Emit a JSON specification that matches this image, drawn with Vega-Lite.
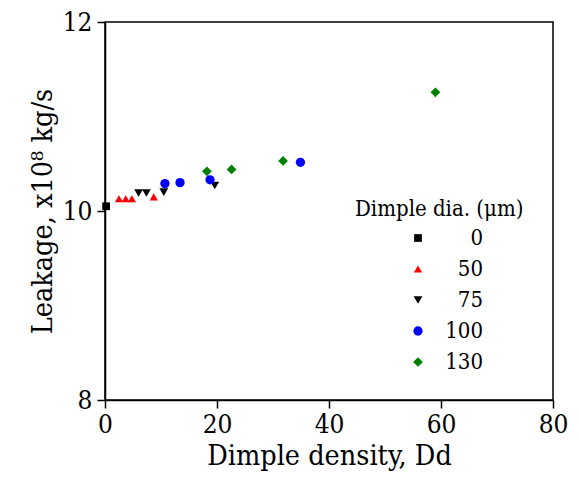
{
  "$schema": "https://vega.github.io/schema/vega-lite/v6.json",
  "autosize": "none",
  "padding": {"left": 105, "top": 22, "right": 25, "bottom": 79},
  "width": 448,
  "height": 378,
  "background": "white",
  "config": {
    "font": "DejaVu Serif Condensed",
    "view": {"stroke": "black", "strokeWidth": 1.5},
    "axis": {
      "domainColor": "black", "domainWidth": 1.5,
      "tickColor": "black", "tickWidth": 1.5, "tickSize": 8,
      "labelFont": "DejaVu Serif Condensed", "labelFontSize": 26, "labelColor": "black", "labelFlush": false,
      "titleFont": "DejaVu Serif Condensed", "titleFontSize": 28.5, "titleFontWeight": "normal", "titleColor": "black",
      "grid": false
    },
    "legend": {
      "titleFont": "DejaVu Serif Condensed", "titleFontSize": 22, "titleFontWeight": "normal", "titleColor": "black",
      "labelFont": "DejaVu Serif Condensed", "labelFontSize": 22, "labelColor": "black"
    }
  },
  "data": {"values": [
    {"density": 0.2, "leak": 10.05, "dia": "0"},
    {"density": 2.5, "leak": 10.13, "dia": "50"},
    {"density": 3.7, "leak": 10.13, "dia": "50"},
    {"density": 4.8, "leak": 10.13, "dia": "50"},
    {"density": 8.7, "leak": 10.15, "dia": "50"},
    {"density": 6.0, "leak": 10.19, "dia": "75"},
    {"density": 7.4, "leak": 10.19, "dia": "75"},
    {"density": 10.5, "leak": 10.2, "dia": "75"},
    {"density": 19.6, "leak": 10.27, "dia": "75"},
    {"density": 10.7, "leak": 10.29, "dia": "100"},
    {"density": 13.4, "leak": 10.3, "dia": "100"},
    {"density": 18.75, "leak": 10.33, "dia": "100"},
    {"density": 34.9, "leak": 10.515, "dia": "100"},
    {"density": 18.2, "leak": 10.42, "dia": "130"},
    {"density": 22.6, "leak": 10.44, "dia": "130"},
    {"density": 31.8, "leak": 10.53, "dia": "130"},
    {"density": 59.0, "leak": 11.256, "dia": "130"}
  ]},
  "mark": {"type": "point", "filled": true, "opacity": 1},
  "encoding": {
    "x": {"field": "density", "type": "quantitative",
      "scale": {"domain": [0, 80], "nice": false, "zero": false},
      "axis": {"values": [0, 20, 40, 60, 80], "title": "Dimple density, Dd", "titlePadding": 4, "labelPadding": 3}},
    "y": {"field": "leak", "type": "quantitative",
      "scale": {"domain": [8, 12], "nice": false, "zero": false},
      "axis": {"values": [8, 10, 12], "title": "Leakage, x10⁸ kg/s", "titlePadding": 5, "labelPadding": 5}},
    "size": {"field": "dia", "type": "nominal",
      "scale": {"domain": ["0", "50", "75", "100", "130"], "range": [60, 95, 95, 75, 95]},
      "legend": null},
    "shape": {"field": "dia", "type": "nominal",
      "scale": {"domain": ["0", "50", "75", "100", "130"], "range": ["square", "triangle-up", "triangle-down", "circle", "diamond"]},
      "legend": {"title": "Dimple dia. (μm)", "orient": "none", "legendX": 250, "legendY": 177,
        "symbolSize": 50, "symbolOffset": 52, "labelAlign": "right", "labelOffset": 54, "rowPadding": 9, "titlePadding": 6}},
    "color": {"field": "dia", "type": "nominal",
      "scale": {"domain": ["0", "50", "75", "100", "130"], "range": ["black", "red", "black", "blue", "green"]},
      "legend": {"title": "Dimple dia. (μm)", "orient": "none", "legendX": 250, "legendY": 177,
        "symbolSize": 50, "symbolOffset": 52, "labelAlign": "right", "labelOffset": 54, "rowPadding": 9, "titlePadding": 6}}
  }
}
